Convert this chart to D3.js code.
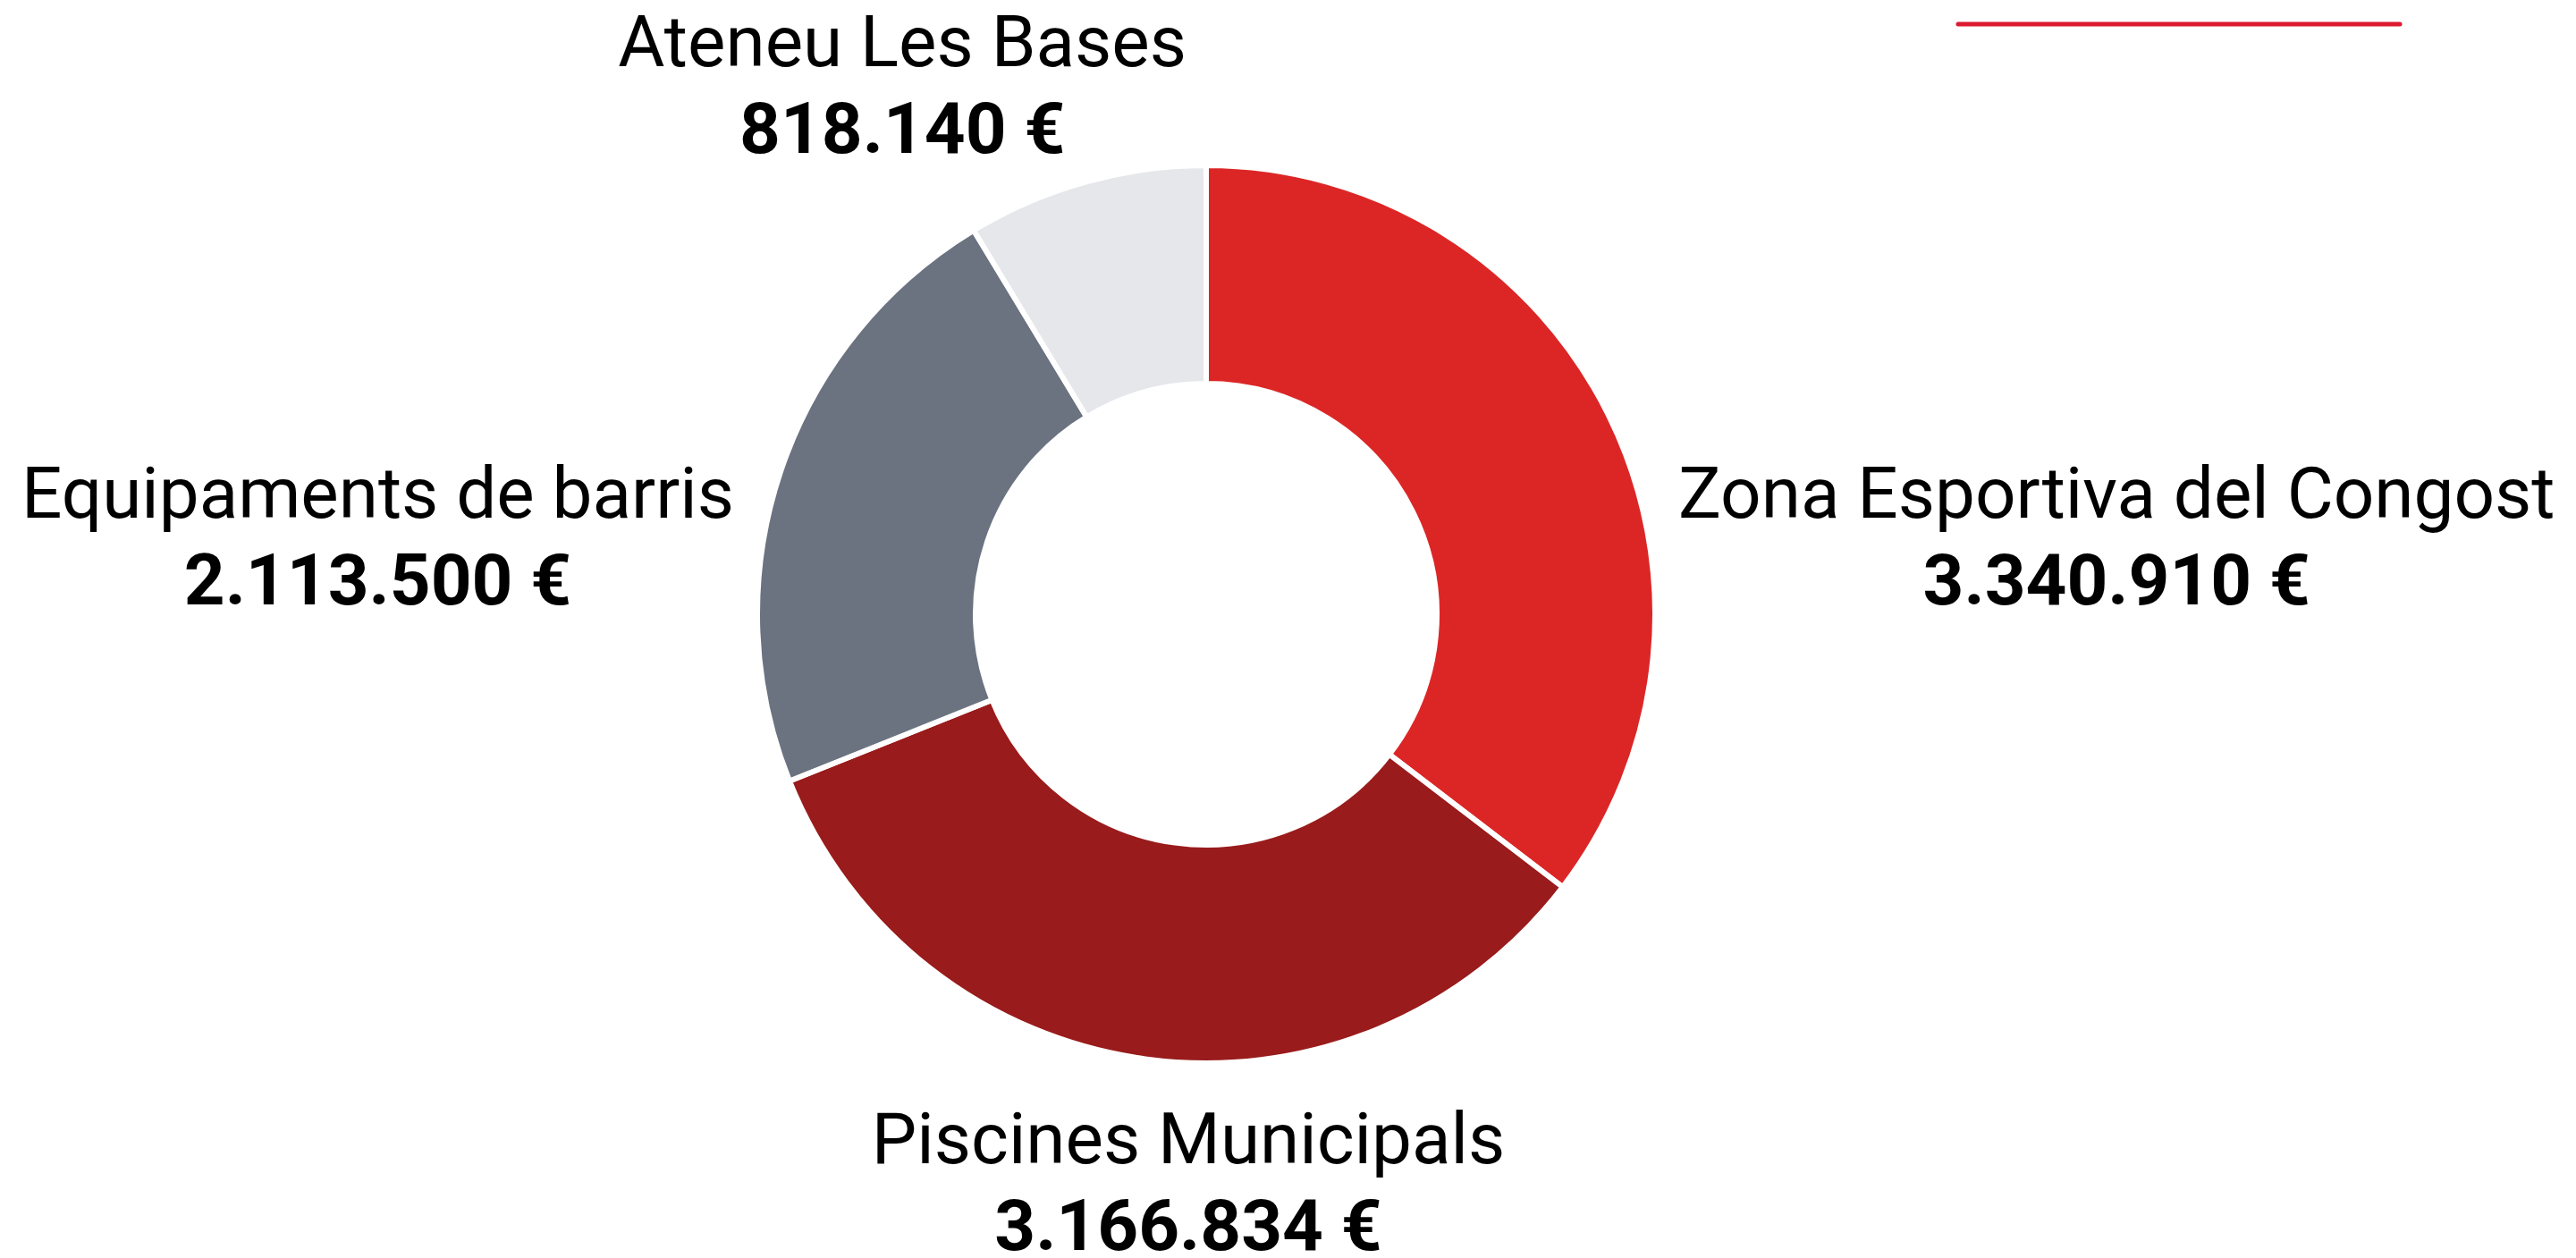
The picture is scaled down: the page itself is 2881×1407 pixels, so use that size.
<!DOCTYPE html>
<html>
<head>
<meta charset="utf-8">
<script src="https://cdn.jsdelivr.net/npm/d3@7"></script>
<style>
  html, body { margin: 0; padding: 0; background: #fff; }
  svg { display: block; }
  text { font-family: Roboto, "Noto Sans", sans-serif; fill: #000; }
</style>
</head>
<body>
<script>
'use strict';

// Pressupost per equipament (euros)
var categories = ["Zona Esportiva del Congost", "Piscines Municipals",
    "Equipaments de barris", "Ateneu Les Bases"];
var amounts = [3340910, 3166834, 2113500, 818140];
var sliceColors = ["#dc2626", "#991b1b", "#6b7280", "#e5e7eb"];

var width = 2881;
var height = 1407;

// donut geometry
var cx = 1349, cy = 687;
var outerR = 502, innerR = 258;

var fontSize = 80;
var lineGap = 97;

var svg = d3.select("body")
    .append("svg")
    .attr("width", width)
    .attr("height", height);

// the thin red rule up in the right corner
svg.append("line")
    .attr("x1", 2190).attr("x2", 2684)
    .attr("y1", 27).attr("y2", 27)
    .attr("stroke", "#dc1a30")
    .attr("stroke-width", 5)
    .attr("stroke-linecap", "round");

var pie = d3.pie().sort(null).value(function(d) { return d; });
var arcs = pie(amounts);

var arc = d3.arc().innerRadius(innerR).outerRadius(outerR);

var g = svg.append("g")
    .attr("transform", "translate(" + cx + "," + cy + ")");

g.selectAll("path.slice")
    .data(arcs)
    .enter().append("path")
    .attr("class", "slice")
    .attr("d", arc)
    .attr("fill", function(d, i) { return sliceColors[i]; })
    .attr("stroke", "#fff")
    .attr("stroke-width", 6)
    .attr("stroke-linejoin", "miter");

// euro format with dots as thousands separator
var fmt = d3.formatLocale({decimal: ",", thousands: ".", grouping: [3], currency: ["", " €"]}).format("$,.0f");

// which side of the donut the label sits on, from the slice's mid angle
function sideOf(d) {
    var a = ((d.startAngle + d.endAngle) / 2) * 180 / Math.PI;
    if (a >= 45 && a < 135) return "right";
    if (a >= 135 && a < 225) return "bottom";
    if (a >= 225 && a < 315) return "left";
    return "top";
}

arcs.forEach(function(d, i) {
    var side = sideOf(d);
    var lab = svg.append("g");
    var t1 = lab.append("text")
        .attr("text-anchor", "middle")
        .style("font-size", fontSize + "px")
        .text(categories[i]);
    var t2 = lab.append("text")
        .attr("text-anchor", "middle")
        .attr("y", lineGap)
        .style("font-size", fontSize + "px")
        .style("font-weight", "bold")
        .text(fmt(amounts[i]));
    var w = Math.max(t1.node().getComputedTextLength(), t2.node().getComputedTextLength());

    var x, y;
    if (side === "right") {
        x = cx + outerR + 26 + w / 2;
        y = cy - 108;
    } else if (side === "left") {
        x = cx - outerR - 26 - w / 2;
        y = cy - 108;
    } else if (side === "top") {
        x = cx - 22 - w / 2;
        y = cy - outerR - 14 - lineGap;
    } else {
        x = cx - 20;
        y = cy + outerR + 112;
    }
    lab.attr("transform", "translate(" + x + "," + y + ")");
});
</script>
</body>
</html>
